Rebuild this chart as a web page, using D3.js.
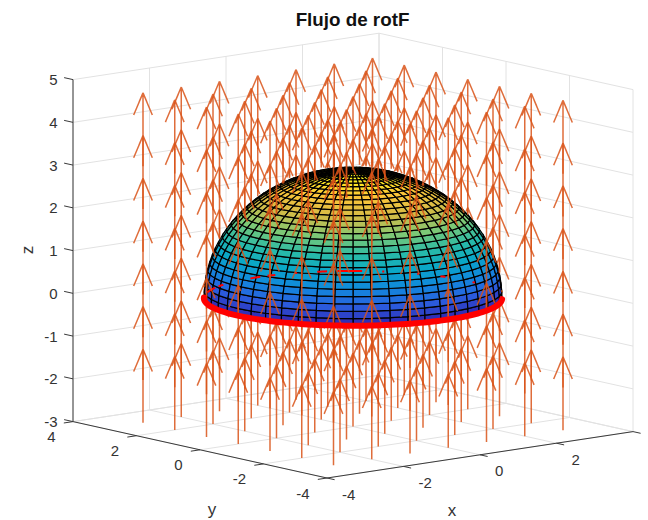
<!DOCTYPE html>
<html>
<head>
<meta charset="utf-8">
<script src="https://cdnjs.cloudflare.com/ajax/libs/d3/7.8.5/d3.min.js"></script>
<style>
body{margin:0;background:#fff;}
svg{display:block;font-family:"Liberation Sans",Arial,sans-serif;}
.grid{stroke:#e2e2e2;stroke-width:1;fill:none;}
.axis{stroke:#3a3a3a;stroke-width:1;fill:none;}
.tick-txt{font-size:15px;fill:#333;}
.axis-txt{font-size:17px;fill:#333;}
</style>
</head>
<body>
<svg width="648" height="520"></svg>
<script>
const svg=d3.select('svg');

/* ticks */
const xTicks=[-4,-2,0,2,4];
const yTicks=[-4,-2,0,2,4];
const zTicks=[-3,-2,-1,0,1,2,3,4,5];
const xTickLabels=['-4','-2','0','2',''];
const yTickLabels=['-4','-2','0','2','4'];

/* quiver grid, every arrow points straight up */
const arrowX=[-3,-2,-1,0,1,2,3];
const arrowY=[-3,-2,-1,0,1,2,3];
const arrowZ=[-3,-2,-1,0,1,2,3];
const arrowLen=1.72;
const headBack=0.52;
const headSide=[0.145,-0.119];

/* hemisphere */
const radius=3;
const lonDeg=d3.range(-180,180.1,7.2);
const latDeg=d3.range(0,90.1,3.2);

/* pieces of the far side of the ring that poke through the surface, degrees */
const ringBack=[[128,118],[114.7,110.7],[93.8,88.7],[85.3,81.7],[73.1,72.3],[64.2,60.3],
                [56.3,46.8],[39,38.2],[24.8,24],[14.4,12],[-3,-4.5]];

/* parula */
const parulaStops=[0,0.125,0.25,0.375,0.5,0.625,0.75,0.875,1];
const parulaColors=['#2f2fb8','#2a5fe0','#1288dc','#08a6c8','#2bbba6','#7fc874','#d3bb47','#fdc539','#f9fb15'];
const colorScale=d3.scaleLinear().domain(parulaStops).range(parulaColors);
const zColor=d3.scaleLinear().domain([0,radius]).range([0,1]);

/* the three box axes, each one adds a shift on screen */
const xRight=d3.scaleLinear().domain([-4,4]).range([327,633]);
const xUp=d3.scaleLinear().domain([-4,4]).range([0,-46.4]);
const yRight=d3.scaleLinear().domain([-4,4]).range([0,-254]);
const yUp=d3.scaleLinear().domain([-4,4]).range([0,-56.4]);
const zScale=d3.scaleLinear().domain([-3,5]).range([478,136]);

const proj=(x,y,z)=>[xRight(x)+yRight(y),xUp(x)+yUp(y)+zScale(z)];
const line=d3.line();

/* direction from a point to the viewer, in data units */
const a=xRight(1)-xRight(0),b=yRight(0)-yRight(1),c=xUp(0)-xUp(1),d=yUp(0)-yUp(1),e=zScale(0)-zScale(1);
const view=[-b,-a,(c*b+d*a)/e];

const hidden=(p)=>{
  const A=view[0]*view[0]+view[1]*view[1]+view[2]*view[2];
  const B=2*(p[0]*view[0]+p[1]*view[1]+p[2]*view[2]);
  const C=p[0]*p[0]+p[1]*p[1]+p[2]*p[2]-radius*radius;
  const disc=B*B-4*A*C;
  if(disc<=0) return false;
  const s=Math.sqrt(disc);
  return [(-B-s)/(2*A),(-B+s)/(2*A)].some(t=>t>0 && p[2]+t*view[2]>=0);
};

/* path of a 3d segment with the parts behind the dome left out */
const visiblePath=(p0,p1)=>{
  const n=Math.ceil(Math.abs(p1[2]-p0[2])*12)+4;
  let out='',run=[];
  for(let i=0;i<=n;i++){
    const t=i/n;
    const p=[p0[0]+(p1[0]-p0[0])*t,p0[1]+(p1[1]-p0[1])*t,p0[2]+(p1[2]-p0[2])*t];
    if(hidden(p)){
      if(run.length>1) out+=line(run);
      run=[];
    } else run.push(proj(p[0],p[1],p[2]));
  }
  if(run.length>1) out+=line(run);
  return out;
};

/* back walls and floor */
const gGrid=svg.append('g').attr('class','grid');
const seg3=(g,p,q,cls)=>g.append('path').attr('d',line([proj(...p),proj(...q)])).attr('class',cls);
zTicks.forEach(z=>{
  seg3(gGrid,[-4,4,z],[4,4,z],'grid');
  seg3(gGrid,[4,4,z],[4,-4,z],'grid');
});
xTicks.forEach(x=>{
  seg3(gGrid,[x,4,-3],[x,4,5],'grid');
  seg3(gGrid,[x,-4,-3],[x,4,-3],'grid');
});
yTicks.forEach(y=>{
  seg3(gGrid,[4,y,-3],[4,y,5],'grid');
  seg3(gGrid,[-4,y,-3],[4,y,-3],'grid');
});

/* dome, back facing cells are skipped */
const cells=[];
for(let j=0;j<latDeg.length-1;j++){
  for(let i=0;i<lonDeg.length-1;i++){
    const pt=(lo,la)=>{
      const t=lo*Math.PI/180,f=la*Math.PI/180;
      return proj(radius*Math.cos(f)*Math.cos(t),radius*Math.cos(f)*Math.sin(t),radius*Math.sin(f));
    };
    const q=[pt(lonDeg[i],latDeg[j]),pt(lonDeg[i+1],latDeg[j]),pt(lonDeg[i+1],latDeg[j+1]),pt(lonDeg[i],latDeg[j+1])];
    if(d3.polygonArea(q)<=0) continue;
    cells.push({q,z:radius*Math.sin(latDeg[j]*Math.PI/180)});
  }
}
svg.append('g').selectAll('path').data(cells).enter().append('path')
  .attr('d',k=>line(k.q)+'Z')
  .attr('fill',k=>colorScale(zColor(k.z)))
  .attr('stroke','#000')
  .attr('stroke-width',1.2);

/* far side of ring */
const ringPt=(deg)=>proj(radius*Math.cos(deg*Math.PI/180),radius*Math.sin(deg*Math.PI/180),0);
svg.append('g').selectAll('path').data(ringBack).enter().append('path')
  .attr('d',k=>line(d3.range(0,1.01,0.25).map(t=>ringPt(k[0]+(k[1]-k[0])*t))))
  .attr('fill','none')
  .attr('stroke','#ff0000')
  .attr('stroke-width',2);

/* arrows */
const arrows=[];
arrowX.forEach(x=>arrowY.forEach(y=>arrowZ.forEach(z=>arrows.push({x,y,z}))));
svg.append('g').selectAll('path').data(arrows).enter().append('path')
  .attr('d',k=>{
    const tip=[k.x,k.y,k.z+arrowLen];
    const back=k.z+arrowLen-headBack;
    return visiblePath([k.x,k.y,k.z],tip)
      +visiblePath([k.x+headSide[0],k.y+headSide[1],back],tip)
      +visiblePath([k.x-headSide[0],k.y-headSide[1],back],tip);
  })
  .attr('fill','none')
  .attr('stroke','#d95319')
  .attr('stroke-opacity',0.85)
  .attr('stroke-width',1.5);

/* red ring, near side */
svg.append('path')
  .attr('d',line(d3.range(-221,-39,2).map(ringPt)))
  .attr('fill','none')
  .attr('stroke','#ff0000')
  .attr('stroke-width',6)
  .attr('stroke-linecap','round');

/* axes */
const gAxis=svg.append('g');
seg3(gAxis,[-4,4,-3],[-4,4,5],'axis');
seg3(gAxis,[-4,4,-3],[-4,-4,-3],'axis');
seg3(gAxis,[-4,-4,-3],[4,-4,-3],'axis');
zTicks.forEach(z=>{
  seg3(gAxis,[-4,4,z],[-4,4.28,z],'axis');
  gAxis.append('text').attr('class','tick-txt')
    .attr('x',proj(-4,4,z)[0]-15.5).attr('y',proj(-4,4,z)[1]+5.5)
    .attr('text-anchor','end').text(z);
});
yTicks.forEach((y,i)=>{
  seg3(gAxis,[-4,y,-3],[-4.24,y,-3],'axis');
  gAxis.append('text').attr('class','tick-txt')
    .attr('x',proj(-4,y,-3)[0]-17.5).attr('y',proj(-4,y,-3)[1]+20.5)
    .attr('text-anchor','end').text(yTickLabels[i]);
});
xTicks.forEach((x,i)=>{
  seg3(gAxis,[x,-4,-3],[x,-4.24,-3],'axis');
  gAxis.append('text').attr('class','tick-txt')
    .attr('x',proj(x,-4,-3)[0]+15).attr('y',proj(x,-4,-3)[1]+21.5)
    .attr('text-anchor','start').text(xTickLabels[i]);
});

/* labels */
svg.append('text').attr('x',452).attr('y',516).attr('text-anchor','middle').attr('class','axis-txt').text('x');
svg.append('text').attr('x',212).attr('y',515).attr('text-anchor','middle').attr('class','axis-txt').text('y');
svg.append('text').attr('transform','translate(33,250)rotate(-90)').attr('text-anchor','middle').attr('class','axis-txt').text('z');
svg.append('text').attr('x',352.5).attr('y',26).attr('text-anchor','middle')
  .attr('font-size','18.8px').attr('font-weight','bold').attr('fill','#111').text('Flujo de rotF');
</script>
</body>
</html>
